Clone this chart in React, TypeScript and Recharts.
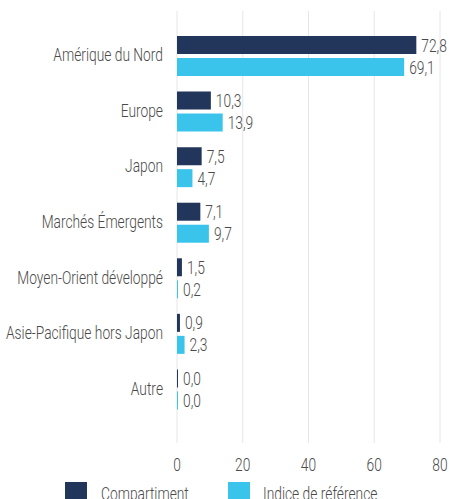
import React from "react";
import { BarChart, Bar, XAxis, YAxis, CartesianGrid, LabelList, Legend } from "recharts";

const categories = [
  "Amérique du Nord",
  "Europe",
  "Japon",
  "Marchés Émergents",
  "Moyen-Orient développé",
  "Asie-Pacifique hors Japon",
  "Autre",
];
const compartiment = [72.8, 10.3, 7.5, 7.1, 1.5, 0.9, 0.0];
const indice = [69.1, 13.9, 4.7, 9.7, 0.2, 2.3, 0.0];
const xTicks = [0, 20, 40, 60, 80];
const seriesNames = ["Compartiment", "Indice de référence"];
const colors = ["#22355b", "#3ac4ec"];

const data = categories.map((c, i) => ({ name: c, a: compartiment[i], b: indice[i] }));

const FONT = "Roboto, 'Liberation Sans', sans-serif";
const FS = 18.5;
const SX = 0.745;
const TXT = "#4a4a4a";
const fmt = (v: any) => Number(v).toFixed(1).replace(".", ",");

const STxt = ({ x, y, anchor, dy, children }: any) => (
  <g transform={`translate(${x},${y}) scale(${SX},1)`}>
    <text x={0} y={0} dy={dy} textAnchor={anchor} fill={TXT} fontSize={FS} fontWeight={300} fontFamily={FONT}>
      {children}
    </text>
  </g>
);

const YTick = (props: any) => {
  const { x, y, payload } = props;
  return <STxt x={x} y={y} anchor="end" dy="0.3em">{payload.value}</STxt>;
};

const XTick = (props: any) => {
  const { x, y, payload } = props;
  return <STxt x={x} y={y} anchor="middle" dy="0.71em">{payload.value}</STxt>;
};

const ValueLabel = (props: any) => {
  const { x, y, width, height, value } = props;
  return <STxt x={x + width + 5} y={y + height / 2} anchor="start" dy="0.355em">{fmt(value)}</STxt>;
};

const legendPos = [
  { sq: 57, tx: 93 },
  { sq: 220, tx: 255 },
];

const LegendContent = () => (
  <div style={{ position: "relative", width: 433, height: 24, fontFamily: FONT, fontSize: FS, fontWeight: 300, color: TXT }}>
    {seriesNames.map((n, i) => (
      <React.Fragment key={n}>
        <div style={{ position: "absolute", left: legendPos[i].sq, top: 0, width: 22, height: 22, background: colors[i] }} />
        <div style={{ position: "absolute", left: legendPos[i].tx, top: 1, whiteSpace: "nowrap", transform: `scaleX(${SX})`, transformOrigin: "left top", lineHeight: "22px" }}>{n}</div>
      </React.Fragment>
    ))}
  </div>
);

export default function App() {
  return (
    <div style={{ fontFamily: FONT, width: 449 }}>
      <style>{`html,body{overflow:hidden;margin:0}`}</style>
      <BarChart
        width={449}
        height={506}
        data={data}
        layout="vertical"
        margin={{ top: 11, right: 9, bottom: 0, left: 8 }}
        barGap={4}
        barSize={18}
      >
        <CartesianGrid horizontal={false} vertical={true} stroke="#e6e6e6" />
        <XAxis
          type="number"
          domain={[0, 80]}
          ticks={xTicks}
          axisLine={false}
          tickLine={false}
          height={39}
          tick={<XTick />}
          tickMargin={9}
        />
        <YAxis
          type="category"
          dataKey="name"
          width={169}
          axisLine={false}
          tickLine={false}
          tickMargin={8}
          padding={{ top: 17, bottom: 26 }}
          tick={<YTick />}
          interval={0}
        />
        <Legend verticalAlign="bottom" content={<LegendContent />} />
        <Bar dataKey="a" name={seriesNames[0]} fill={colors[0]} minPointSize={1} isAnimationActive={false}>
          <LabelList dataKey="a" content={<ValueLabel />} />
        </Bar>
        <Bar dataKey="b" name={seriesNames[1]} fill={colors[1]} minPointSize={1} isAnimationActive={false}>
          <LabelList dataKey="b" content={<ValueLabel />} />
        </Bar>
      </BarChart>
    </div>
  );
}
